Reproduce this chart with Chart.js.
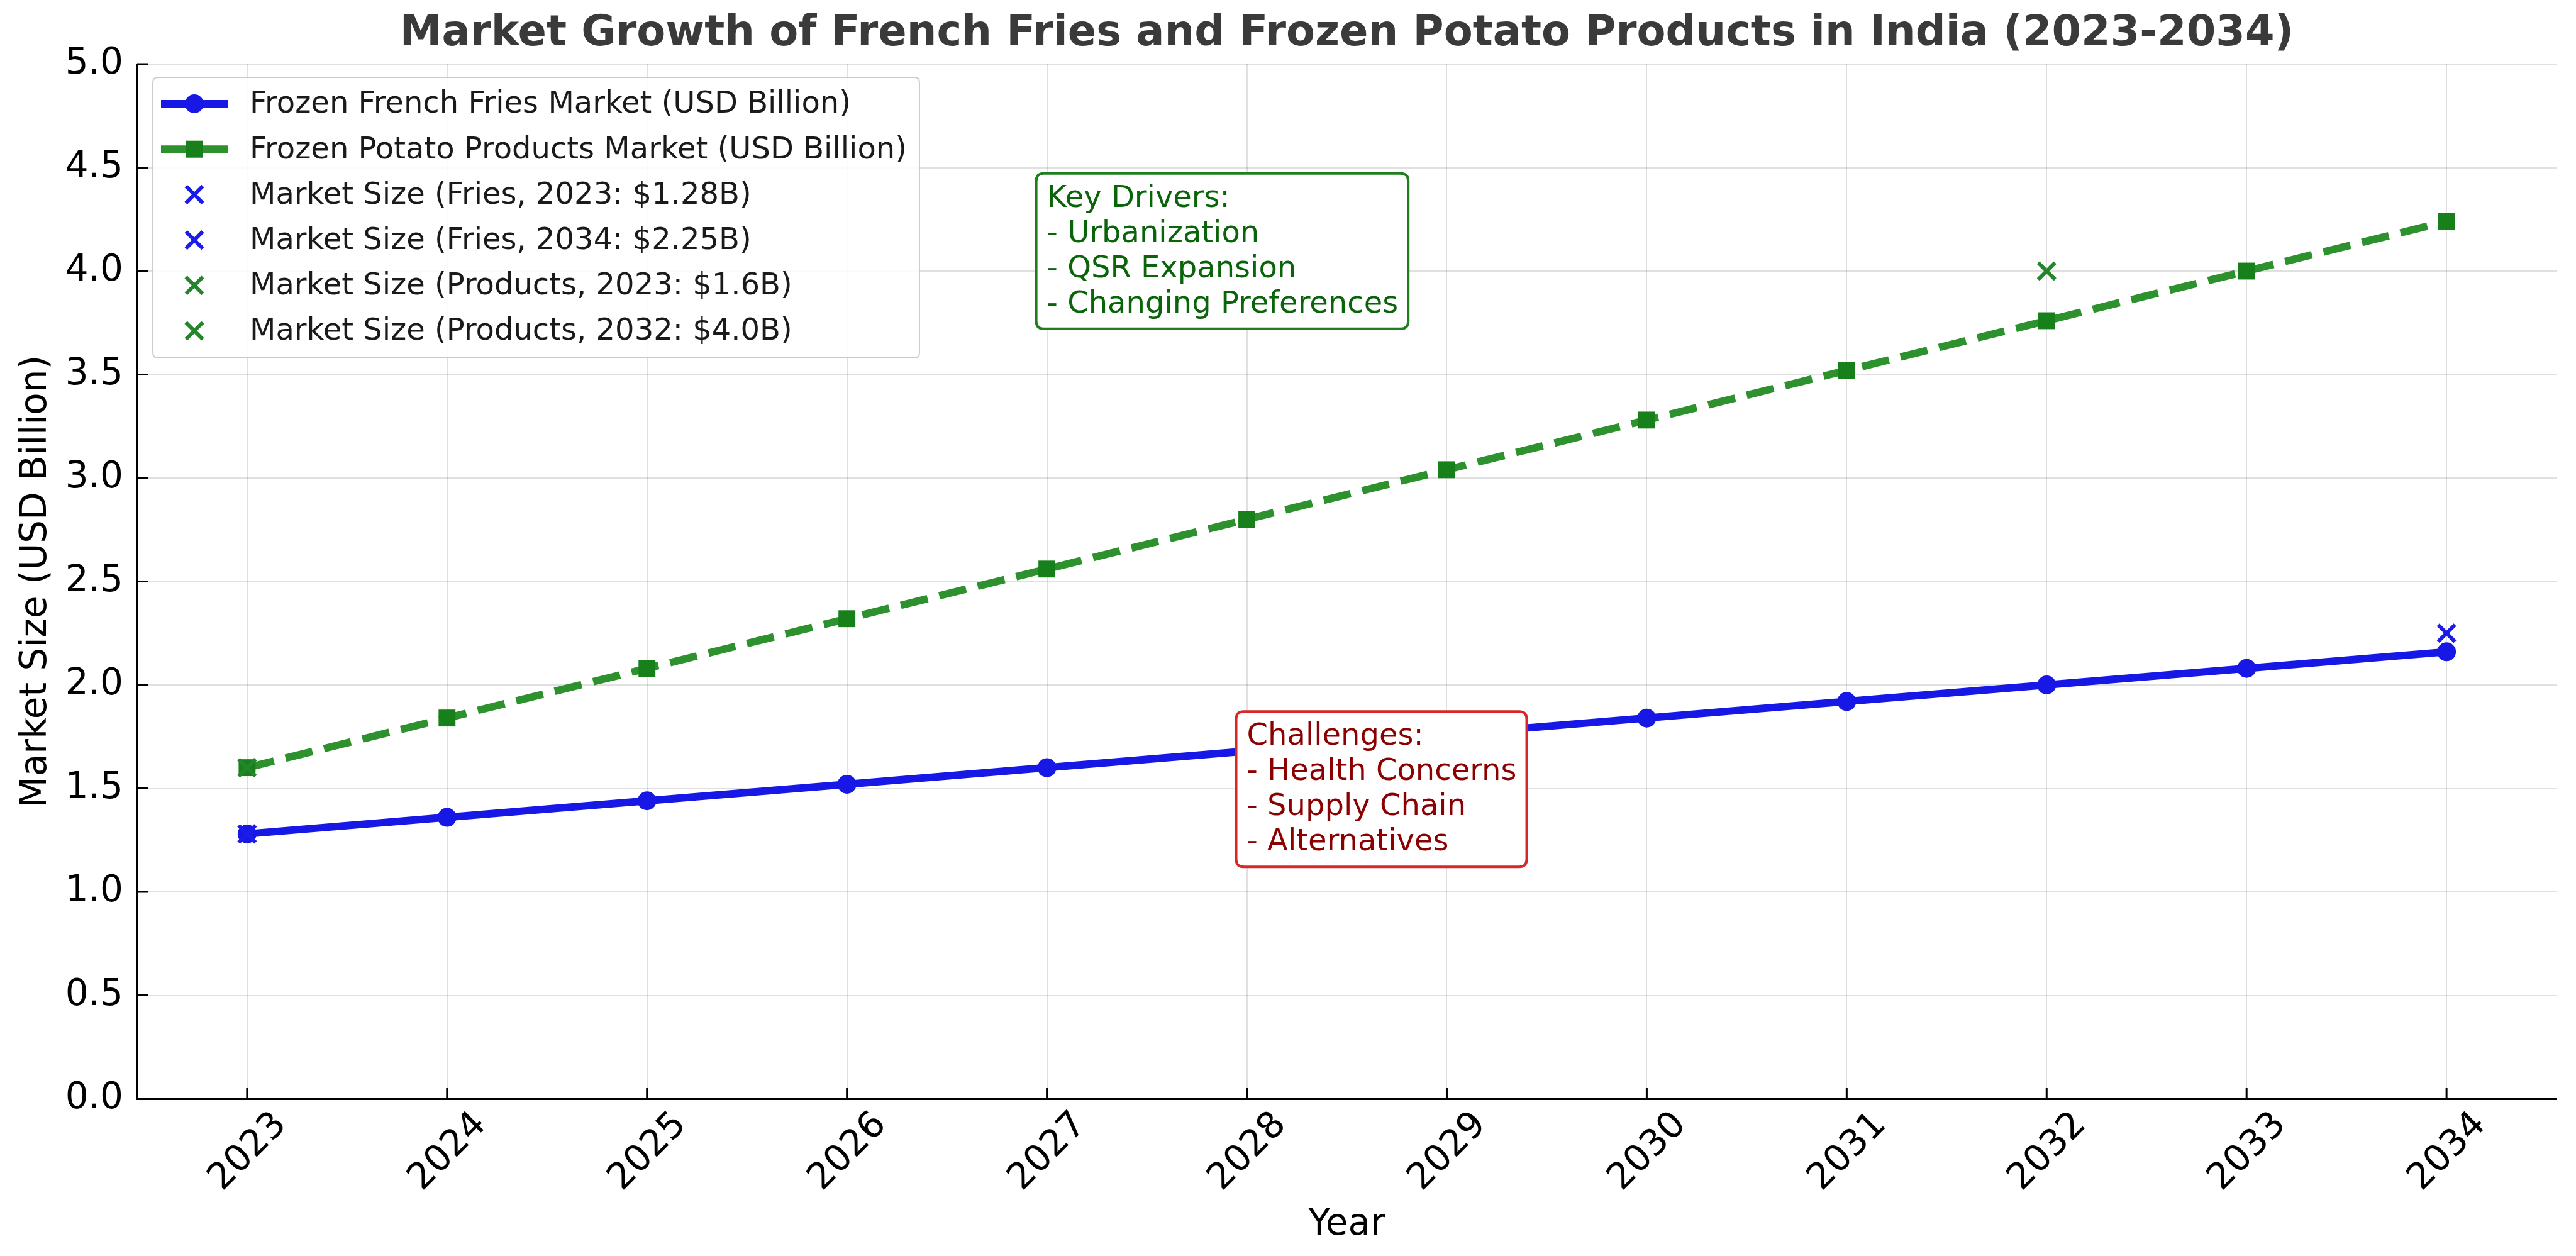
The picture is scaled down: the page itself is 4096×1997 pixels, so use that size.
<!DOCTYPE html>
<html>
<head>
<meta charset="utf-8">
<script src="https://cdn.jsdelivr.net/npm/chart.js@4.4.1/dist/chart.umd.min.js"></script>
<style>
  html, body { margin: 0; padding: 0; background: #fff; }
  canvas { display: block; }
</style>
</head>
<body>
<canvas id="myChart" width="4096" height="1997"></canvas>
<script>
const years = [2023, 2024, 2025, 2026, 2027, 2028, 2029, 2030, 2031, 2032, 2033, 2034];
const friesMarket = [1.28, 1.36, 1.44, 1.52, 1.6, 1.68, 1.76, 1.84, 1.92, 2.0, 2.08, 2.16];
const productsMarket = [1.6, 1.84, 2.08, 2.32, 2.56, 2.8, 3.04, 3.28, 3.52, 3.76, 4.0, 4.24];
const yTicks = [0, 0.5, 1, 1.5, 2, 2.5, 3, 3.5, 4, 4.5, 5];

const seriesLabels = ["Frozen French Fries Market (USD Billion)", "Frozen Potato Products Market (USD Billion)"];
const highlightLabels = [
  "Market Size (Fries, 2023: $1.28B)",
  "Market Size (Fries, 2034: $2.25B)",
  "Market Size (Products, 2023: $1.6B)",
  "Market Size (Products, 2032: $4.0B)"
];
const highlightYears = [2023, 2034, 2023, 2032];
const highlightValues = [1.28, 2.25, 1.6, 4.0];

const driverLines = ["Key Drivers:", "- Urbanization", "- QSR Expansion", "- Changing Preferences"];
const challengeLines = ["Challenges:", "- Health Concerns", "- Supply Chain", "- Alternatives"];

const FONT = "'DejaVu Sans', 'Liberation Sans', sans-serif";
const BLUE_LINE = "#1717e6";
const BLUE_X = "#1c1ce8";
const GREEN_LINE = "rgba(16,130,16,0.88)";
const GREEN_PT = "#17801a";
const GREEN_X = "#23862a";
const highlightColors = [BLUE_X, BLUE_X, GREEN_X, GREEN_X];

function xy(xs, ys) {
  return xs.map((v, i) => ({ x: v, y: ys[i] }));
}

function roundRect(ctx, x, y, w, h, r) {
  ctx.beginPath();
  ctx.moveTo(x + r, y);
  ctx.lineTo(x + w - r, y);
  ctx.quadraticCurveTo(x + w, y, x + w, y + r);
  ctx.lineTo(x + w, y + h - r);
  ctx.quadraticCurveTo(x + w, y + h, x + w - r, y + h);
  ctx.lineTo(x + r, y + h);
  ctx.quadraticCurveTo(x, y + h, x, y + h - r);
  ctx.lineTo(x, y + r);
  ctx.quadraticCurveTo(x, y, x + r, y);
  ctx.closePath();
}

function drawCross(ctx, x, y, r, color) {
  const o = r * Math.SQRT1_2;
  ctx.save();
  ctx.strokeStyle = color;
  ctx.lineWidth = 6;
  ctx.beginPath();
  ctx.moveTo(x - o, y - o); ctx.lineTo(x + o, y + o);
  ctx.moveTo(x + o, y - o); ctx.lineTo(x - o, y + o);
  ctx.stroke();
  ctx.restore();
}

// text box placed in data units, last line baseline sits on the value
function drawNote(chart, lines, xVal, yVal, textColor, edgeColor) {
  const ctx = chart.ctx;
  const x = chart.scales.x.getPixelForValue(xVal);
  const yLast = chart.scales.y.getPixelForValue(yVal);
  const size = 48, lh = 56;
  ctx.save();
  ctx.font = size + "px " + FONT;
  const w = Math.max(...lines.map(l => ctx.measureText(l).width));
  const first = yLast - lh * (lines.length - 1);
  const top = first - size * 0.73 - 18;
  const bottom = yLast + 26;
  roundRect(ctx, x - 17, top, w + 33, bottom - top, 12);
  ctx.fillStyle = "#fff";
  ctx.fill();
  ctx.lineWidth = 4;
  ctx.strokeStyle = edgeColor;
  ctx.stroke();
  ctx.fillStyle = textColor;
  ctx.textAlign = "left";
  ctx.textBaseline = "alphabetic";
  lines.forEach((l, i) => ctx.fillText(l, x, first + i * lh));
  ctx.restore();
}

const decorPlugin = {
  id: "decor",
  beforeDatasetsDraw(chart) {
    // inward tick marks like the original axes
    const ctx = chart.ctx;
    const a = chart.chartArea;
    const xs = chart.scales.x, ys = chart.scales.y;
    ctx.save();
    ctx.strokeStyle = "#000";
    ctx.lineWidth = 3;
    ctx.beginPath();
    years.forEach(v => {
      const px = xs.getPixelForValue(v);
      ctx.moveTo(px, a.bottom); ctx.lineTo(px, a.bottom - 17);
    });
    yTicks.forEach(v => {
      const py = ys.getPixelForValue(v);
      ctx.moveTo(a.left, py); ctx.lineTo(a.left + 17, py);
    });
    ctx.stroke();
    ctx.restore();
  },
  afterDraw(chart) {
    const ctx = chart.ctx;
    const a = chart.chartArea;

    // title
    ctx.save();
    ctx.font = "bold 67px " + FONT;
    ctx.fillStyle = "#3a3a3a";
    ctx.textAlign = "center";
    ctx.textBaseline = "alphabetic";
    ctx.fillText("Market Growth of French Fries and Frozen Potato Products in India (2023-2034)", (a.left + a.right) / 2, 72);
    ctx.restore();

    drawNote(chart, driverLines, 2027, 3.8, "#0a640a", "#1f7f1f");
    drawNote(chart, challengeLines, 2028, 1.2, "#8b0000", "#d62828");

    // legend
    const rows = seriesLabels.concat(highlightLabels);
    const lx = a.left + 25, ly = a.top + 21;
    ctx.save();
    ctx.font = "48px " + FONT;
    const tw = Math.max(...rows.map(r => ctx.measureText(r).width));
    const bw = 154 + tw + 20, bh = 446;
    roundRect(ctx, lx, ly, bw, bh, 8);
    ctx.fillStyle = "rgba(255,255,255,0.85)";
    ctx.fill();
    ctx.strokeStyle = "#cccccc";
    ctx.lineWidth = 2;
    ctx.stroke();
    const hx = lx + 66;
    rows.forEach((r, i) => {
      const cy = ly + 42 + i * 72.2;
      if (i === 0) {
        ctx.strokeStyle = BLUE_LINE; ctx.lineWidth = 12;
        ctx.beginPath(); ctx.moveTo(lx + 13, cy); ctx.lineTo(lx + 119, cy); ctx.stroke();
        ctx.fillStyle = BLUE_LINE;
        ctx.beginPath(); ctx.arc(hx, cy, 15, 0, Math.PI * 2); ctx.fill();
      } else if (i === 1) {
        ctx.strokeStyle = GREEN_LINE; ctx.lineWidth = 12;
        ctx.setLineDash([44, 19]);
        ctx.beginPath(); ctx.moveTo(lx + 13, cy); ctx.lineTo(lx + 119, cy); ctx.stroke();
        ctx.setLineDash([]);
        ctx.fillStyle = GREEN_PT;
        ctx.fillRect(hx - 13.5, cy - 13.5, 27, 27);
      } else {
        drawCross(ctx, hx, cy, 19, highlightColors[i - 2]);
      }
      ctx.fillStyle = "#1a1a1a";
      ctx.textAlign = "left";
      ctx.textBaseline = "middle";
      ctx.fillText(r, lx + 154, cy + 2);
    });
    ctx.restore();
  }
};

const axisFont = { family: FONT, size: 58 };
const gridStyle = { color: "rgba(0,0,0,0.12)", lineWidth: 2, drawTicks: false };
const borderStyle = { display: true, color: "#000", width: 3 };

const datasets = [
  {
    type: "line",
    label: seriesLabels[0],
    data: xy(years, friesMarket),
    borderColor: BLUE_LINE,
    backgroundColor: BLUE_LINE,
    borderWidth: 12,
    pointStyle: "circle",
    pointRadius: 15,
    pointBorderWidth: 0,
    tension: 0,
    order: 2
  },
  {
    type: "line",
    label: seriesLabels[1],
    data: xy(years, productsMarket),
    borderColor: GREEN_LINE,
    backgroundColor: GREEN_PT,
    borderWidth: 12,
    borderDash: [44, 19],
    pointStyle: "rect",
    pointRadius: 19,
    pointBorderWidth: 0,
    tension: 0,
    order: 1
  }
];
highlightLabels.forEach((lab, i) => {
  datasets.push({
    type: "scatter",
    label: lab,
    data: [{ x: highlightYears[i], y: highlightValues[i] }],
    pointStyle: "crossRot",
    pointRadius: 19,
    pointBorderWidth: 6,
    borderColor: highlightColors[i],
    backgroundColor: highlightColors[i],
    order: 0
  });
});

new Chart("myChart", {
  data: { datasets: datasets },
  options: {
    responsive: false,
    animation: false,
    devicePixelRatio: 1,
    events: [],
    layout: { padding: { top: 102, right: 31, bottom: 0, left: 0 } },
    plugins: {
      legend: { display: false },
      tooltip: { enabled: false },
      title: { display: false }
    },
    scales: {
      x: {
        type: "linear",
        min: 2022.45,
        max: 2034.55,
        afterBuildTicks: (s) => { s.ticks = years.map(v => ({ value: v })); },
        afterFit: (s) => { s.height = 250; },
        ticks: {
          autoSkip: false,
          minRotation: 45,
          maxRotation: 45,
          labelOffset: 54,
          padding: 8,
          color: "#000",
          font: axisFont,
          callback: (v) => String(v)
        },
        grid: gridStyle,
        border: borderStyle,
        title: { display: true, text: "Year", color: "#000", font: axisFont, padding: { top: 0, bottom: 14 } }
      },
      y: {
        type: "linear",
        min: 0,
        max: 5,
        afterBuildTicks: (s) => { s.ticks = yTicks.map(v => ({ value: v })); },
        afterFit: (s) => { s.width = 218; },
        ticks: {
          padding: 22,
          color: "#000",
          font: axisFont,
          callback: (v) => Number(v).toFixed(1)
        },
        grid: gridStyle,
        border: borderStyle,
        title: { display: true, text: "Market Size (USD Billion)", color: "#000", font: axisFont, padding: { top: 23, bottom: 0 } }
      }
    }
  },
  plugins: [decorPlugin]
});
</script>
</body>
</html>
